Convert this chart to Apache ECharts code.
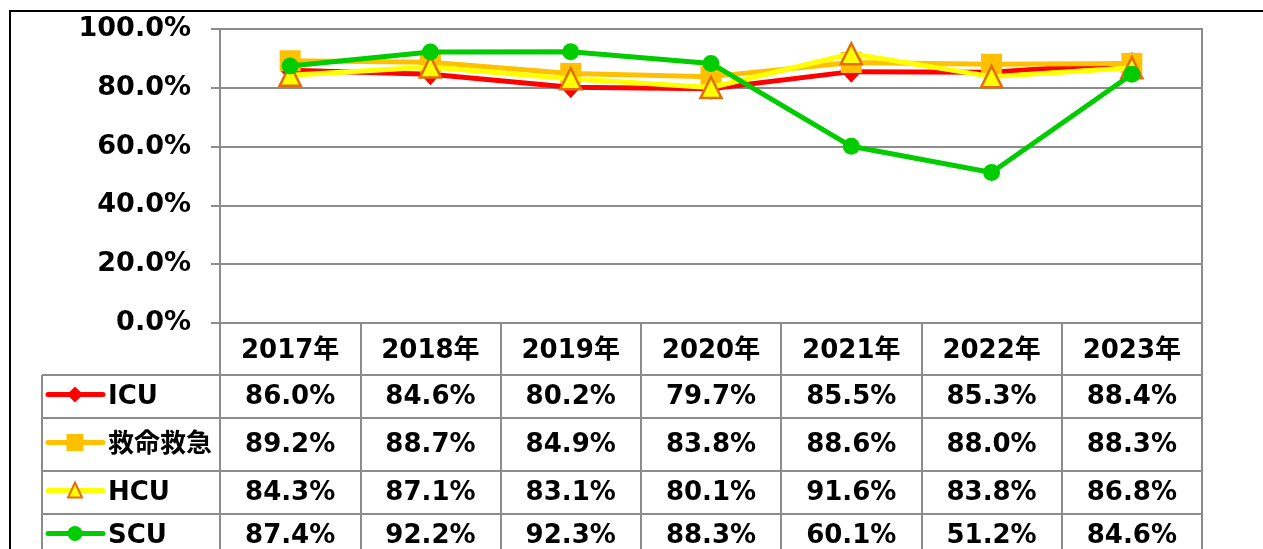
<!DOCTYPE html>
<html lang="ja">
<head>
<meta charset="UTF-8">
<title>病床利用率の推移</title>
<script src="https://cdn.jsdelivr.net/npm/echarts@6.0.0/dist/echarts.min.js"></script>
<style>
  html, body { margin: 0; padding: 0; background: #fff; }
  #main { width: 1263px; height: 549px; }
</style>
</head>
<body>
<div id="main"></div>
<script>
// データ
var years = ['2017年', '2018年', '2019年', '2020年', '2021年', '2022年', '2023年'];
var names = ['ICU', '救命救急', 'HCU', 'SCU'];
var icu = [86.0, 84.6, 80.2, 79.7, 85.5, 85.3, 88.4];
var kyumei = [89.2, 88.7, 84.9, 83.8, 88.6, 88.0, 88.3];
var hcu = [84.3, 87.1, 83.1, 80.1, 91.6, 83.8, 86.8];
var scu = [87.4, 92.2, 92.3, 88.3, 60.1, 51.2, 84.6];
var yTicks = [0, 20, 40, 60, 80, 100];

var values = [icu, kyumei, hcu, scu];

// 見た目
var font = 'Verdana, "DejaVu Sans", "Noto Sans CJK JP", sans-serif';
var gray = '#8c8c8c';
var plotLeft = 220, plotRight = 1202, plotTop = 29, plotBottom = 323;
var tableLeft = 42;
var rowLines = [375, 418, 471, 514, 557]; // データテーブルの行の境界

var looks = [
  { color: '#ff0000', symbol: 'diamond', size: [20, 22], border: '#ff0000', bw: 0 },
  { color: '#ffc000', symbol: 'rect', size: 21, border: '#ffc000', bw: 0 },
  { color: '#ffff00', symbol: 'triangle', size: [21, 21], border: '#e46c0a', bw: 2.5 },
  { color: '#00cc00', symbol: 'circle', size: 17, border: '#00cc00', bw: 0 }
];

var chart = echarts.init(document.getElementById('main'));

var series = names.map(function (n, i) {
  var lk = looks[i];
  return {
    name: n,
    type: 'line',
    data: values[i],
    symbol: lk.symbol,
    symbolSize: lk.size,
    showAllSymbol: true,
    lineStyle: { color: lk.color, width: 5 },
    itemStyle: { color: lk.color, borderColor: lk.border, borderWidth: lk.bw, opacity: 1 },
    emphasis: { disabled: true },
    z: 2 + i
  };
});

chart.setOption({
  animation: false,
  backgroundColor: '#fff',
  grid: {
    left: plotLeft, right: 1263 - plotRight, top: plotTop, bottom: 549 - plotBottom,
    containLabel: false, outerBoundsMode: 'none',
    show: true, borderColor: gray, borderWidth: 2, backgroundColor: '#fff'
  },
  xAxis: {
    type: 'category',
    data: years,
    boundaryGap: true,
    axisLine: { lineStyle: { color: gray, width: 2 } },
    axisTick: { show: true, length: 240, lineStyle: { color: gray, width: 2 } },
    axisLabel: { color: '#000', fontSize: 26, fontWeight: 'bold', fontFamily: font, margin: 15 }
  },
  yAxis: {
    type: 'value',
    min: yTicks[0],
    max: yTicks[yTicks.length - 1],
    interval: yTicks[1] - yTicks[0],
    axisLine: { show: true, lineStyle: { color: gray, width: 2 } },
    axisTick: { show: true, length: 9, lineStyle: { color: gray, width: 2 } },
    splitLine: { lineStyle: { color: gray, width: 2 } },
    axisLabel: {
      color: '#000', fontSize: 27, fontWeight: 'bold', fontFamily: font, margin: 29,
      padding: [5, 0, 0, 0],
      formatter: function (v) { return v.toFixed(1) + '%'; }
    }
  },
  series: series
});

// データテーブル（凡例付き）
var g = [];
g.push({ type: 'rect', shape: { x: 10, y: 11, width: 1400, height: 700 },
  style: { fill: 'none', stroke: '#000', lineWidth: 2 }, z: 100 });
for (var r = 0; r < 4; r++) {
  g.push({ type: 'line', shape: { x1: tableLeft, y1: rowLines[r], x2: plotRight, y2: rowLines[r] },
    style: { stroke: gray, lineWidth: 2 }, z: 50 });
}
g.push({ type: 'line', shape: { x1: tableLeft, y1: rowLines[0], x2: tableLeft, y2: 549 },
  style: { stroke: gray, lineWidth: 2 }, z: 50 });

function marker(i, cx, cy) {
  var lk = looks[i];
  if (lk.symbol === 'diamond') {
    return { type: 'polygon', shape: { points: [[cx, cy - 8], [cx + 8, cy], [cx, cy + 8], [cx - 8, cy]] },
      style: { fill: lk.color }, z: 61 };
  }
  if (lk.symbol === 'rect') {
    return { type: 'rect', shape: { x: cx - 8.5, y: cy - 8.5, width: 17, height: 17 },
      style: { fill: lk.color }, z: 61 };
  }
  if (lk.symbol === 'triangle') {
    return { type: 'polygon', shape: { points: [[cx, cy - 8], [cx + 7, cy + 7], [cx - 7, cy + 7]] },
      style: { fill: lk.color, stroke: lk.border, lineWidth: 2 }, z: 61 };
  }
  return { type: 'circle', shape: { cx: cx, cy: cy, r: 7.5 }, style: { fill: lk.color }, z: 61 };
}

names.forEach(function (n, i) {
  var cy = (rowLines[i] + rowLines[i + 1]) / 2;
  var ly = cy - 2;
  g.push({ type: 'line', shape: { x1: 48, y1: ly, x2: 103, y2: ly },
    style: { stroke: looks[i].color, lineWidth: 5, lineCap: 'round' }, z: 60 });
  g.push(marker(i, 75, ly));
  g.push({ type: 'text', x: 108, y: cy + 1, z: 60,
    style: { text: n, fill: '#000', font: 'bold 26px ' + font, textAlign: 'left', textVerticalAlign: 'middle' } });
  values[i].forEach(function (v, j) {
    var px = chart.convertToPixel({ xAxisIndex: 0 }, years[j]);
    g.push({ type: 'text', x: px, y: cy + 1, z: 60,
      style: { text: v.toFixed(1) + '%', fill: '#000', font: 'bold 26px ' + font,
        textAlign: 'center', textVerticalAlign: 'middle' } });
  });
});

chart.setOption({ graphic: g });
</script>
</body>
</html>
